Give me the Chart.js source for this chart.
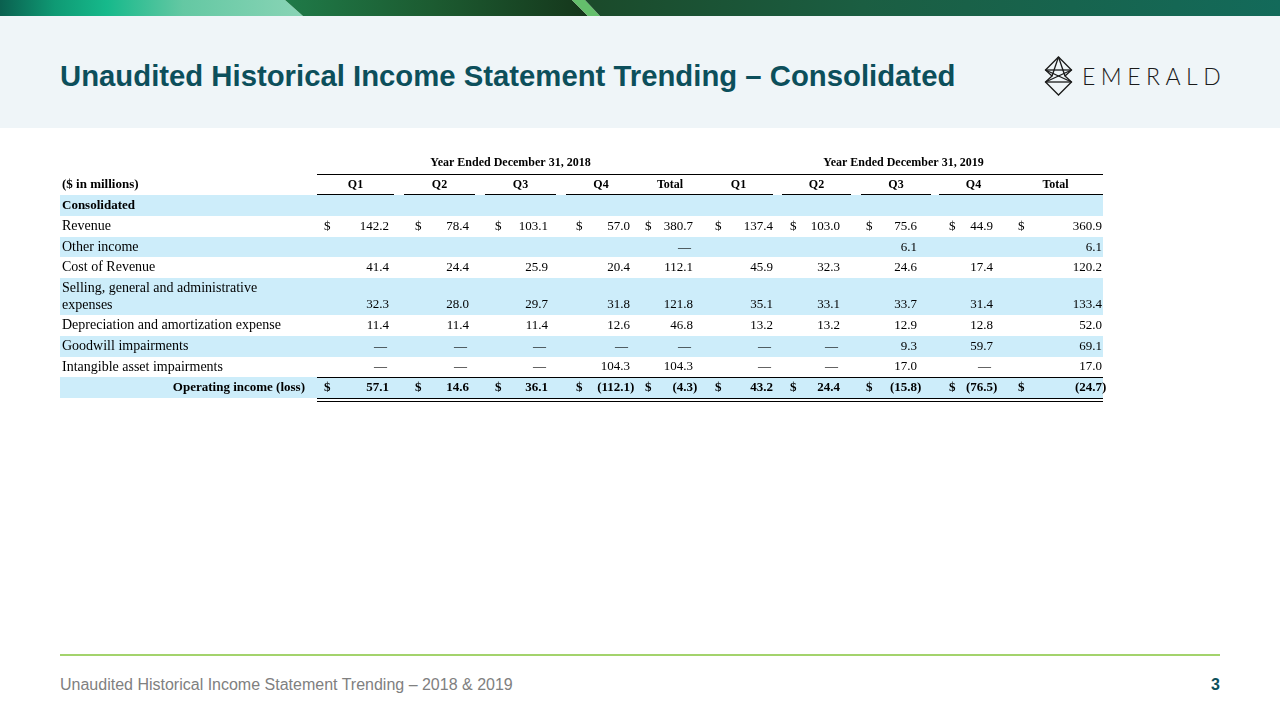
<!DOCTYPE html>
<html>
<head>
<meta charset="utf-8">
<title>Unaudited Historical Income Statement Trending – Consolidated</title>
<script src="https://cdn.jsdelivr.net/npm/chart.js@4.4.1/dist/chart.umd.min.js"></script>
<style>
    body {
        margin: 0;
        width: 1280px;
        height: 720px;
        background: #fff;
        position: relative;
        overflow: hidden;
        font-family: "Liberation Sans", Arial, sans-serif;
    }
    .topbar { position: absolute; left: 0; top: 0; }
    .band {
        position: absolute;
        left: 0; top: 16px;
        width: 1280px; height: 112px;
        background: #eff5f8;
    }
    .title {
        position: absolute;
        left: 60px; top: 61px;
        font-size: 29.3px;
        line-height: 29px;
        font-weight: bold;
        color: #0c4f5b;
        white-space: nowrap;
    }
    .logo { position: absolute; left: 0; top: 0; }
    .table-wrap { position: absolute; left: 0; top: 140px; }
    .footer-line {
        position: absolute;
        left: 60px; top: 654px;
        width: 1160px; height: 2px;
        background: #a3d36c;
    }
    .footer-text {
        position: absolute;
        left: 60px; top: 677px;
        font-size: 16px;
        line-height: 16px;
        color: #808080;
        white-space: nowrap;
    }
    .page-num {
        position: absolute;
        right: 60px; top: 677px;
        font-size: 16px;
        line-height: 16px;
        font-weight: bold;
        color: #0c4f5b;
    }
</style>
</head>
<body>

<svg class="topbar" width="1280" height="16">
    <defs>
        <linearGradient id="gLeft" x1="0" x2="305" gradientUnits="userSpaceOnUse">
            <stop offset="0" stop-color="#0a604f"/>
            <stop offset="0.18" stop-color="#0f9a74"/>
            <stop offset="0.35" stop-color="#16b98b"/>
            <stop offset="0.6" stop-color="#64c8a3"/>
            <stop offset="1" stop-color="#8ad4b6"/>
        </linearGradient>
        <linearGradient id="gMid" x1="285" x2="590" gradientUnits="userSpaceOnUse">
            <stop offset="0" stop-color="#1f7a48"/>
            <stop offset="0.5" stop-color="#1c5a30"/>
            <stop offset="1" stop-color="#15361b"/>
        </linearGradient>
        <linearGradient id="gRight" x1="585" x2="1280" gradientUnits="userSpaceOnUse">
            <stop offset="0" stop-color="#1b4a2a"/>
            <stop offset="0.4" stop-color="#1b5e42"/>
            <stop offset="1" stop-color="#136a5a"/>
        </linearGradient>
    </defs>
    <polygon points="0,0 285,0 303,16 0,16" fill="url(#gLeft)"/>
    <polygon points="285,0 572,0 588,16 303,16" fill="url(#gMid)"/>
    <polygon points="572,0 585,0 600,16 588,16" fill="#64bf6c"/>
    <polygon points="585,0 1280,0 1280,16 600,16" fill="url(#gRight)"/>
</svg>

<div class="band"></div>
<div class="title">Unaudited Historical Income Statement Trending – Consolidated</div>

<svg class="logo" width="1280" height="128">
    <g fill="none" stroke="#1a1a1a" stroke-width="1.3" stroke-linejoin="miter">
        <polygon points="1058.5,57 1071.5,70 1065,76 1071.5,82 1058.5,95 1045.5,82 1052,76 1045.5,70"/>
        <line x1="1045.5" y1="70" x2="1071.5" y2="70"/>
        <line x1="1045.5" y1="82" x2="1071.5" y2="82"/>
        <line x1="1045.5" y1="70" x2="1071.5" y2="82"/>
        <line x1="1071.5" y1="70" x2="1045.5" y2="82"/>
        <line x1="1058.5" y1="57" x2="1052" y2="76"/>
        <line x1="1058.5" y1="57" x2="1065" y2="76"/>
    </g>
    <text x="1082" y="85" font-family="Lato, 'Open Sans', sans-serif" font-weight="300"
          font-size="23" letter-spacing="5.5" fill="#1a1a1a">EMERALD</text>
</svg>

<div class="table-wrap">
    <canvas id="statement" width="1280" height="280"></canvas>
</div>

<div class="footer-line"></div>
<div class="footer-text">Unaudited Historical Income Statement Trending – 2018 &amp; 2019</div>
<div class="page-num">3</div>

<script>
// Statement data ($ in millions); null = blank cell, 0 = dash
const yearHeaders = ['Year Ended December 31, 2018', 'Year Ended December 31, 2019'];
const periodLabels = ['Q1', 'Q2', 'Q3', 'Q4', 'Total', 'Q1', 'Q2', 'Q3', 'Q4', 'Total'];
const unitsLabel = '($ in millions)';
const sectionLabel = 'Consolidated';
const itemLabels = [
    'Revenue',
    'Other income',
    'Cost of Revenue',
    'Selling, general and administrative expenses',
    'Depreciation and amortization expense',
    'Goodwill impairments',
    'Intangible asset impairments'
];
const revenue = [142.2, 78.4, 103.1, 57.0, 380.7, 137.4, 103.0, 75.6, 44.9, 360.9];
const otherIncome = [null, null, null, null, 0, null, null, 6.1, null, 6.1];
const costOfRevenue = [41.4, 24.4, 25.9, 20.4, 112.1, 45.9, 32.3, 24.6, 17.4, 120.2];
const sellingGeneralAdmin = [32.3, 28.0, 29.7, 31.8, 121.8, 35.1, 33.1, 33.7, 31.4, 133.4];
const depreciation = [11.4, 11.4, 11.4, 12.6, 46.8, 13.2, 13.2, 12.9, 12.8, 52.0];
const goodwillImpairments = [0, 0, 0, 0, 0, 0, 0, 9.3, 59.7, 69.1];
const intangibleImpairments = [0, 0, 0, 104.3, 104.3, 0, 0, 17.0, 0, 17.0];
const totalLabel = 'Operating income (loss)';
const operatingIncome = [57.1, 14.6, 36.1, -112.1, -4.3, 43.2, 24.4, -15.8, -76.5, -24.7];

const itemValues = [revenue, otherIncome, costOfRevenue, sellingGeneralAdmin,
    depreciation, goodwillImpairments, intangibleImpairments];

// Layout (x in table units from the table's left edge)
const TABLE_W = 1043;
const colSpans = [[257, 334], [344, 415], [425, 496], [506, 576], [576, 644],
                  [644, 713], [722, 791], [801, 871], [879, 948], [948, 1043]];
const valueRight = [329, 409, 488, 570, 633, 713, 780, 857, 933, 1042];
const dollarLeft = [264, 355, 435, 516, 585, 655, 730, 806, 889, 958];
const LABEL_LEFT = 2;
const TOTAL_LABEL_RIGHT = 245;
const LABEL_WRAP = 235;
const HEADER_ROWS = [1.05, 1.05];
const LINE_STEP = 0.8;

const SERIF = '"Liberation Serif", "Times New Roman", serif';
const LABEL_FONT = '14px ' + SERIF;
const BODY_FONT = '13px ' + SERIF;
const BOLD_FONT = 'bold 13px ' + SERIF;
const HEAD_FONT = 'bold 12px ' + SERIF;
const STRIPE = '#cdedfa';
const INK = '#000';

// Wrap long row labels the way the source does
const measureCtx = document.createElement('canvas').getContext('2d');
measureCtx.font = LABEL_FONT;
function wrapLabel(text) {
    const words = text.split(' ');
    const lines = [];
    let line = '';
    words.forEach(word => {
        const test = line ? line + ' ' + word : word;
        if (line && measureCtx.measureText(test).width > LABEL_WRAP) {
            lines.push(line);
            line = word;
        } else {
            line = test;
        }
    });
    lines.push(line);
    return lines;
}

// Build the row list
const headerUnits = HEADER_ROWS[0] + HEADER_ROWS[1];
const rows = [];
let cursor = headerUnits;
rows.push({ kind: 'section', lines: [sectionLabel], top: cursor, h: 1 });
cursor += 1;
itemLabels.forEach((label, i) => {
    const lines = wrapLabel(label);
    const h = 1 + LINE_STEP * (lines.length - 1);
    rows.push({ kind: 'item', lines, values: itemValues[i], dollar: i === 0, top: cursor, h });
    cursor += h;
});
rows.push({ kind: 'total', lines: [totalLabel], values: operatingIncome, dollar: true, top: cursor, h: 1 });
cursor += 1;
const tableUnits = cursor;

function formatValue(v) {
    if (v === null) return null;
    if (v === 0) return { text: '—', dash: true };
    if (v < 0) return { text: '(' + Math.abs(v).toFixed(1), close: ')' };
    return { text: v.toFixed(1) };
}

const statementTable = {
    id: 'statementTable',
    afterDraw(chart) {
        const { ctx, scales: { x, y } } = chart;
        const px = v => x.getPixelForValue(v);
        const py = v => y.getPixelForValue(v);
        const hline = (x0, x1, yy) => {
            const yp = Math.round(yy) + 0.5;
            ctx.beginPath();
            ctx.moveTo(Math.round(px(x0)), yp);
            ctx.lineTo(Math.round(px(x1)), yp);
            ctx.stroke();
        };

        ctx.save();
        ctx.strokeStyle = INK;
        ctx.lineWidth = 1;

        // Row stripes
        rows.forEach((row, i) => {
            if (i % 2 !== 0) return;
            ctx.fillStyle = STRIPE;
            const top = Math.round(py(row.top));
            const bottom = Math.round(py(row.top + row.h));
            ctx.fillRect(px(0), top, px(TABLE_W) - px(0), bottom - top);
        });

        ctx.fillStyle = INK;
        ctx.textBaseline = 'middle';

        // Year headers
        ctx.font = HEAD_FONT;
        ctx.textAlign = 'center';
        const yearY = py(HEADER_ROWS[0] / 2);
        yearHeaders.forEach((label, k) => {
            const first = colSpans[k * 5][0];
            const last = colSpans[k * 5 + 4][1];
            ctx.fillText(label, px((first + last) / 2), yearY);
        });
        hline(colSpans[0][0], colSpans[colSpans.length - 1][1], py(HEADER_ROWS[0]));

        // Period headers with underlines
        const periodY = py(HEADER_ROWS[0] + HEADER_ROWS[1] / 2);
        periodLabels.forEach((label, c) => {
            ctx.fillText(label, px((colSpans[c][0] + colSpans[c][1]) / 2), periodY);
            hline(colSpans[c][0], colSpans[c][1], py(headerUnits) - 1);
        });
        ctx.textAlign = 'left';
        ctx.font = BOLD_FONT;
        ctx.fillText(unitsLabel, px(LABEL_LEFT), periodY);

        // Body rows
        rows.forEach(row => {
            const firstY = py(row.top + 0.5);
            const lastY = py(row.top + 0.5 + LINE_STEP * (row.lines.length - 1));

            if (row.kind === 'total') {
                ctx.font = BOLD_FONT;
                ctx.textAlign = 'right';
                ctx.fillText(row.lines[0], px(TOTAL_LABEL_RIGHT), firstY);
            } else {
                ctx.font = row.kind === 'section' ? BOLD_FONT : LABEL_FONT;
                ctx.textAlign = 'left';
                row.lines.forEach((line, k) => {
                    ctx.fillText(line, px(LABEL_LEFT), py(row.top + 0.5 + LINE_STEP * k));
                });
            }
            if (!row.values) return;

            ctx.font = row.kind === 'total' ? BOLD_FONT : BODY_FONT;
            row.values.forEach((v, c) => {
                const cell = formatValue(v);
                if (!cell) return;
                if (row.dollar) {
                    ctx.textAlign = 'left';
                    ctx.fillText('$', px(dollarLeft[c]), lastY);
                }
                ctx.textAlign = 'right';
                const right = cell.dash ? valueRight[c] - 2 : valueRight[c];
                ctx.fillText(cell.text, px(right), lastY);
                if (cell.close) {
                    ctx.textAlign = 'left';
                    ctx.fillText(cell.close, px(valueRight[c]), lastY);
                }
            });

            if (row.kind === 'total') {
                const x0 = colSpans[0][0];
                const x1 = colSpans[colSpans.length - 1][1];
                hline(x0, x1, py(row.top));
                hline(x0, x1, py(row.top + row.h));
                hline(x0, x1, py(row.top + row.h) + 3);
            }
        });

        ctx.restore();
    }
};

new Chart(document.getElementById('statement'), {
    type: 'scatter',
    data: { datasets: [] },
    options: {
        responsive: false,
        animation: false,
        layout: { padding: { left: 60, right: 177, top: 12, bottom: 22 } },
        scales: {
            x: { type: 'linear', display: false, min: 0, max: TABLE_W },
            y: { type: 'linear', display: false, reverse: true, min: 0, max: tableUnits }
        },
        plugins: {
            legend: { display: false },
            tooltip: { enabled: false }
        }
    },
    plugins: [statementTable]
});
</script>
</body>
</html>
